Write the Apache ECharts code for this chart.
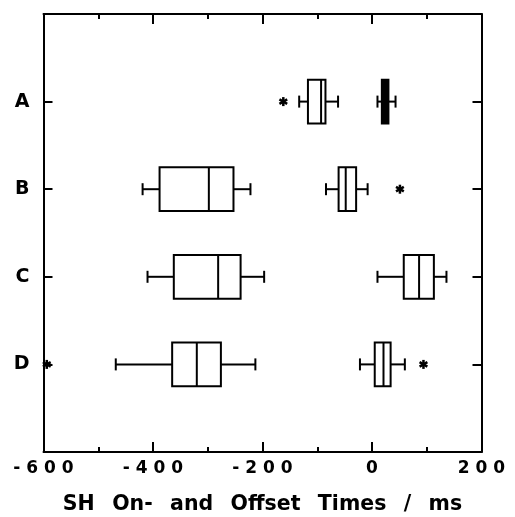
<!DOCTYPE html>
<html>
<head>
<meta charset="utf-8">
<script src="https://cdn.jsdelivr.net/npm/echarts@6/dist/echarts.min.js"></script>
<style>
html,body{margin:0;padding:0;background:#fff;}
#chart{width:515px;height:517px;}
</style>
</head>
<body>
<div id="chart"></div>
<script>
// Categories (top to bottom)
const categories = ['A', 'B', 'C', 'D'];
// Boxes: [whisker low, Q1, median, Q3, whisker high]
const onsetBoxes = [
  [-133, -117, -93, -85, -62],
  [-419, -388, -298, -253, -222],
  [-410, -362, -281, -240, -197],
  [-468, -365, -320, -276, -213]
];
const offsetBoxes = [
  [10, 18, 24, 30, 43],
  [-84, -61, -48, -29, -8],
  [10, 58, 86, 113, 136],
  [-22, 5, 21, 34, 60]
];
// Outliers: [category index, value]
const outliers = [
  [0, -162],
  [1, 51],
  [3, -594],
  [3, 94]
];
const xTicks = [-600, -400, -200, 0, 200];
const xTitleWords = ['SH', 'On-', 'and', 'Offset', 'Times', '/', 'ms'];

function spaced(s) { return String(s).split('').join(' '); }

function boxData(boxes) {
  return boxes.map((b, i) => [i + 1].concat(b));
}

function makeRenderBox(solidIndex) {
  return function (params, api) {
    const y = api.value(0);
    const lo = api.value(1), q1 = api.value(2), med = api.value(3), q3 = api.value(4), hi = api.value(5);
    const half = api.size([0, 1])[1] * 0.25;
    const cap = 6;
    const pLo = api.coord([lo, y]);
    const pQ1 = api.coord([q1, y]);
    const pMed = api.coord([med, y]);
    const pQ3 = api.coord([q3, y]);
    const pHi = api.coord([hi, y]);
    const yc = pLo[1];
    const solid = params.dataIndex === solidIndex;
    const ls = { stroke: '#000', lineWidth: 2 };
    return {
      type: 'group',
      children: [
        { type: 'line', shape: { x1: pLo[0], y1: yc, x2: pQ1[0], y2: yc }, style: ls },
        { type: 'line', shape: { x1: pQ3[0], y1: yc, x2: pHi[0], y2: yc }, style: ls },
        { type: 'line', shape: { x1: pLo[0], y1: yc - cap, x2: pLo[0], y2: yc + cap }, style: ls },
        { type: 'line', shape: { x1: pHi[0], y1: yc - cap, x2: pHi[0], y2: yc + cap }, style: ls },
        { type: 'rect', shape: { x: pQ1[0], y: yc - half, width: pQ3[0] - pQ1[0], height: 2 * half },
          style: { fill: solid ? '#000' : '#fff', stroke: '#000', lineWidth: 2 } },
        { type: 'line', shape: { x1: pMed[0], y1: yc - half, x2: pMed[0], y2: yc + half }, style: ls }
      ]
    };
  };
}

function renderStar(params, api) {
  const p = api.coord([api.value(1), api.value(0) + 1]);
  const r = 4.5;
  const children = [];
  for (let k = 0; k < 3; k++) {
    const a = Math.PI / 2 + k * Math.PI / 3;
    children.push({ type: 'line',
      shape: { x1: p[0] - r * Math.cos(a), y1: p[1] - r * Math.sin(a), x2: p[0] + r * Math.cos(a), y2: p[1] + r * Math.sin(a) },
      style: { stroke: '#000', lineWidth: 2.5 } });
  }
  return { type: 'group', children: children };
}

const chart = echarts.init(document.getElementById('chart'), null, { renderer: 'canvas' });
const FONT = '"DejaVu Sans", Arial, sans-serif';
const axisLineStyle = { color: '#000', width: 2 };
const tickMajor = { show: true, inside: true, length: 10, lineStyle: { color: '#000', width: 2 } };
const tickMinor = { show: true, splitNumber: 2, length: 5, lineStyle: { color: '#000', width: 2 } };
const tickCat = { show: true, inside: true, length: 9, lineStyle: { color: '#000', width: 2 } };

chart.setOption({
  animation: false,
  backgroundColor: '#fff',
  grid: { left: 43.5, right: 33.5, top: 14, bottom: 65, containLabel: false, outerBoundsMode: 'none' },
  xAxis: [
    {
      type: 'value', position: 'bottom', min: -600, max: 200, interval: 200,
      axisLine: { show: true, onZero: false, lineStyle: axisLineStyle },
      axisTick: tickMajor,
      minorTick: tickMinor,
      splitLine: { show: false },
      axisLabel: { show: true, margin: 8, color: '#000', fontFamily: FONT, fontWeight: 'bold', fontSize: 17,
        formatter: v => spaced(v) },
      name: xTitleWords.join(' \u2002'), nameLocation: 'middle', nameGap: 42,
      nameTextStyle: { color: '#000', fontFamily: FONT, fontWeight: 'bold', fontSize: 20.5 }
    },
    {
      type: 'value', position: 'top', min: -600, max: 200, interval: 200,
      axisLine: { show: true, onZero: false, lineStyle: axisLineStyle },
      axisTick: tickMajor,
      minorTick: tickMinor,
      splitLine: { show: false },
      axisLabel: { show: false }
    }
  ],
  yAxis: [
    {
      type: 'value', position: 'left', min: 0, max: 5, interval: 1, inverse: true,
      axisLine: { show: true, onZero: false, lineStyle: axisLineStyle },
      axisTick: tickCat,
      splitLine: { show: false },
      axisLabel: { show: true, margin: 14, color: '#000', fontFamily: FONT, fontWeight: 'bold', fontSize: 19,
        formatter: v => categories[v - 1] || '' }
    },
    {
      type: 'value', position: 'right', min: 0, max: 5, interval: 1, inverse: true,
      axisLine: { show: true, onZero: false, lineStyle: axisLineStyle },
      axisTick: tickCat,
      splitLine: { show: false },
      axisLabel: { show: false }
    }
  ],
  series: [
    { name: 'onset', type: 'custom', xAxisIndex: 0, yAxisIndex: 0, renderItem: makeRenderBox(-1),
      data: boxData(onsetBoxes), encode: { x: [1, 2, 3, 4, 5], y: 0 }, clip: false },
    { name: 'offset', type: 'custom', xAxisIndex: 0, yAxisIndex: 0, renderItem: makeRenderBox(0),
      data: boxData(offsetBoxes), encode: { x: [1, 2, 3, 4, 5], y: 0 }, clip: false },
    { name: 'outliers', type: 'custom', xAxisIndex: 0, yAxisIndex: 0, renderItem: renderStar,
      data: outliers, encode: { x: 1, y: 0 }, clip: false }
  ]
});
</script>
</body>
</html>
